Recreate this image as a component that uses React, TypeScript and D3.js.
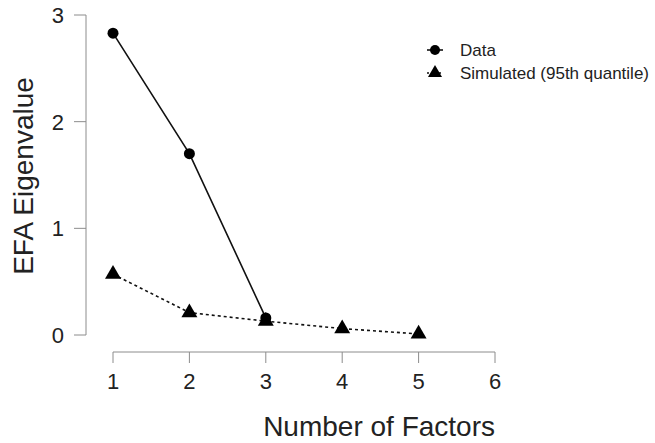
import React, { useRef, useEffect } from 'react';
import * as d3 from 'd3';

// chart values
const factors = [1, 2, 3, 4, 5];
const dataEigen = [2.83, 1.70, 0.16];
const simEigen = [0.57, 0.21, 0.13, 0.06, 0.01];
const xTicks = [1, 2, 3, 4, 5, 6];
const yTicks = [0, 1, 2, 3];

const W = 655;
const H = 443;
const FONT = '"Liberation Sans", Arial, sans-serif';

const App = () => {
  const ref = useRef<SVGSVGElement>(null);

  useEffect(() => {
    const svg = d3.select(ref.current);
    svg.selectAll('*').remove();

    const x = d3.scaleLinear().domain([1, 6]).range([113, 495]);
    const y = d3.scaleLinear().domain([0, 3]).range([335, 15]);
    const axisCol = '#8c8c8c';

    // y axis
    const yAx = svg.append('g').attr('transform', 'translate(86,0)');
    yAx.append('line').attr('x1', 0).attr('x2', 0)
      .attr('y1', y(0)).attr('y2', y(3)).attr('stroke', axisCol);
    yAx.selectAll('line.t').data(yTicks).join('line').attr('class', 't')
      .attr('x1', -12).attr('x2', 0)
      .attr('y1', d => y(d)).attr('y2', d => y(d)).attr('stroke', axisCol);
    yAx.selectAll('text').data(yTicks).join('text')
      .attr('x', -22).attr('y', d => y(d)).attr('dy', '0.36em')
      .attr('text-anchor', 'end').attr('font-size', 22).attr('font-family', FONT)
      .attr('fill', '#222').text(d => d);

    // x axis
    const xAx = svg.append('g').attr('transform', 'translate(0,352)');
    xAx.append('line').attr('x1', x(1)).attr('x2', x(6))
      .attr('y1', 0).attr('y2', 0).attr('stroke', axisCol);
    xAx.selectAll('line.t').data(xTicks).join('line').attr('class', 't')
      .attr('x1', d => x(d)).attr('x2', d => x(d))
      .attr('y1', 0).attr('y2', 11).attr('stroke', axisCol);
    xAx.selectAll('text').data(xTicks).join('text')
      .attr('x', d => x(d)).attr('y', 37)
      .attr('text-anchor', 'middle').attr('font-size', 22).attr('font-family', FONT)
      .attr('fill', '#222').text(d => d);

    // axis titles
    svg.append('text').attr('x', 495).attr('y', 436)
      .attr('text-anchor', 'end').attr('font-size', 28).attr('font-family', FONT)
      .attr('fill', '#222').text('Number of Factors');
    svg.append('text')
      .attr('transform', `translate(33,${176}) rotate(-90)`)
      .attr('text-anchor', 'middle').attr('font-size', 28).attr('font-family', FONT)
      .attr('fill', '#222').text('EFA Eigenvalue');

    // simulated (dashed, triangles) and data (solid, circles)
    const simPts = simEigen.map((v, i) => [factors[i], v] as [number, number]);
    const dataPts = dataEigen.map((v, i) => [factors[i], v] as [number, number]);
    const line = d3.line<[number, number]>().x(d => x(d[0])).y(d => y(d[1]));
    const tri = d3.symbol().type(d3.symbolTriangle).size(110);

    svg.append('path').attr('d', line(simPts)).attr('fill', 'none')
      .attr('stroke', '#111').attr('stroke-width', 1.6).attr('stroke-dasharray', '3,3');
    svg.append('path').attr('d', line(dataPts)).attr('fill', 'none')
      .attr('stroke', '#111').attr('stroke-width', 1.6);

    svg.selectAll('path.tri').data(simPts).join('path').attr('class', 'tri')
      .attr('d', tri).attr('transform', d => `translate(${x(d[0])},${y(d[1])})`)
      .attr('fill', '#000');
    svg.selectAll('circle.pt').data(dataPts).join('circle').attr('class', 'pt')
      .attr('cx', d => x(d[0])).attr('cy', d => y(d[1])).attr('r', 5.5)
      .attr('fill', '#000');

    // legend
    const lg = svg.append('g').attr('transform', 'translate(435,0)');
    lg.append('line').attr('x1', -8).attr('x2', 8).attr('y1', 50).attr('y2', 50)
      .attr('stroke', '#111').attr('stroke-width', 1.6);
    lg.append('circle').attr('cx', 0).attr('cy', 50).attr('r', 5).attr('fill', '#000');
    lg.append('line').attr('x1', -8).attr('x2', 8).attr('y1', 73).attr('y2', 73)
      .attr('stroke', '#111').attr('stroke-width', 1.6).attr('stroke-dasharray', '2,2');
    lg.append('path').attr('d', d3.symbol().type(d3.symbolTriangle).size(85)())
      .attr('transform', 'translate(0,73)').attr('fill', '#000');
    lg.append('text').attr('x', 25).attr('y', 50).attr('dy', '0.35em')
      .attr('font-size', 17).attr('font-family', FONT).attr('fill', '#222').text('Data');
    lg.append('text').attr('x', 25).attr('y', 73).attr('dy', '0.35em')
      .attr('font-size', 17).attr('font-family', FONT).attr('fill', '#222')
      .text('Simulated (95th quantile)');
  }, []);

  return (
    <svg ref={ref} width={W} height={H}
      style={{ position: 'absolute', left: 0, top: 0, background: '#fff' }} />
  );
};

export default App;
